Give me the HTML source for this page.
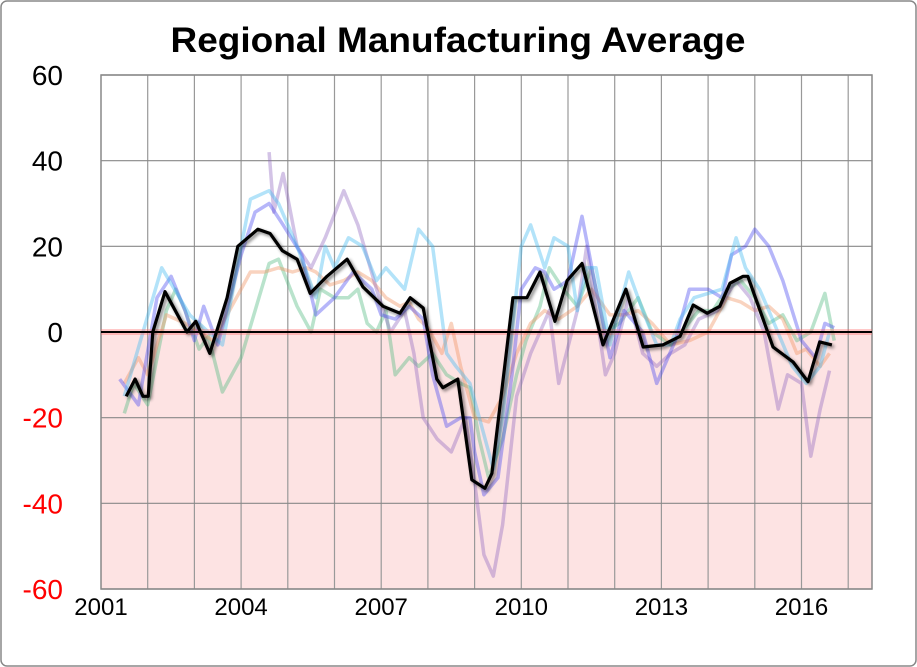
<!DOCTYPE html>
<html><head><meta charset="utf-8"><style>
html,body{margin:0;padding:0;background:#fff;}
svg{display:block;font-family:"Liberation Sans",sans-serif;}
</style></head><body>
<svg id="chart" width="917" height="667" viewBox="0 0 917 667" xmlns="http://www.w3.org/2000/svg">
<defs>
<filter id="sh" x="-5%" y="-5%" width="110%" height="110%"><feGaussianBlur in="SourceAlpha" stdDeviation="1.5"/><feOffset dx="2" dy="2"/><feComponentTransfer><feFuncA type="linear" slope="0.5"/></feComponentTransfer><feMerge><feMergeNode/><feMergeNode in="SourceGraphic"/></feMerge></filter>
</defs>
<rect x="1" y="1" width="915" height="665" rx="6" fill="#fff" stroke="#888" stroke-width="1.5"/>
<text x="458" y="52" text-anchor="middle" font-size="35" font-weight="bold" fill="#000" textLength="575" lengthAdjust="spacingAndGlyphs">Regional Manufacturing Average</text>
<g id="plot"></g>
</svg>
<script>
const yTicks=[60,40,20,0,-20,-40,-60];
const xTickLabels=[2001,2004,2007,2010,2013,2016];
const blackYears=[2001.54,2001.73,2001.9,2002.01,2002.11,2002.37,2002.84,2003.03,2003.33,2003.7,2003.93,2004.36,2004.62,2004.88,2005.2,2005.48,2005.84,2006.27,2006.61,2007.04,2007.4,2007.62,2007.9,2008.19,2008.32,2008.64,2008.94,2009.22,2009.37,2009.82,2010.12,2010.4,2010.72,2010.98,2011.3,2011.75,2012.24,2012.61,2013.03,2013.4,2013.68,2013.98,2014.25,2014.47,2014.75,2014.85,2015.39,2015.82,2016.14,2016.39,2016.65];
const blackVals=[-15,-11,-15,-15,0,9.4,0,2.5,-5,8,20,24,23,19,17,9,13,17,10.5,6,4.4,8,5.6,-11,-13,-11,-34.5,-36.5,-33,8,8,14,2.5,12,16,-3,10,-3.5,-3,-1,6.3,4.4,6,11.4,13,13,-3.5,-7,-11.6,-2.3,-3];
const cyanYears=[2001.5,2002.3,2002.9,2003.3,2003.6,2004.0,2004.2,2004.6,2004.8,2005.2,2005.6,2005.8,2006.0,2006.3,2006.6,2006.9,2007.1,2007.5,2007.8,2008.1,2008.4,2008.6,2008.9,2009.1,2009.4,2009.6,2010.0,2010.2,2010.5,2010.7,2011.0,2011.2,2011.4,2011.6,2011.9,2012.3,2012.6,2012.9,2013.2,2013.4,2013.7,2014.3,2014.6,2014.8,2015.1,2015.3,2015.8,2016.1,2016.4,2016.6];
const cyanVals=[-15,15,4,0,-3,20,31,33,30,20,8,20,15,22,20,12,15,10,24,20,-5,-8,-12,-20,-32,-20,20,25,15,22,20,5,15,15,-3,14,5,-3,-3,3,8,10,22,15,10,5,-8,-12,-8,0];
const blueYears=[2001.4,2001.8,2002.2,2002.5,2002.8,2003.0,2003.2,2003.5,2004.0,2004.3,2004.6,2004.9,2005.3,2005.6,2006.0,2006.4,2006.8,2007.0,2007.3,2007.6,2007.9,2008.1,2008.4,2008.7,2008.9,2009.0,2009.2,2009.5,2009.8,2010.0,2010.3,2010.5,2010.7,2011.0,2011.3,2011.6,2011.9,2012.2,2012.6,2012.9,2013.3,2013.6,2014.0,2014.3,2014.5,2014.8,2015.0,2015.3,2015.6,2016.0,2016.3,2016.5,2016.7];
const blueVals=[-11,-17,8,13,5,-2,6,-3,18,28,30,25,18,4,8,14,10,4,3,6,3,-10,-22,-20,-20,-28,-38,-34,-10,10,15,14,10,12,27,10,-6,5,0,-12,-2,10,10,8,18,20,24,20,12,-2,-6,2,1];
const purpleYears=[2004.6,2004.7,2004.9,2005.2,2005.5,2005.8,2006.2,2006.5,2006.9,2007.2,2007.5,2007.7,2007.9,2008.2,2008.5,2008.8,2009.0,2009.2,2009.4,2009.6,2009.9,2010.2,2010.4,2010.6,2010.8,2011.2,2011.4,2011.6,2011.8,2012.0,2012.3,2012.6,2012.9,2013.2,2013.5,2013.8,2014.2,2014.6,2014.9,2015.2,2015.5,2015.7,2016.0,2016.2,2016.4,2016.6];
const purpleVals=[42,28,37,20,15,22,33,25,10,0,5,-5,-20,-25,-28,-20,-35,-52,-57,-45,-15,-5,0,5,-12,5,20,5,-10,-5,8,-5,-8,-5,-3,3,5,12,8,0,-18,-10,-12,-29,-18,-9];
const orangeYears=[2001.5,2001.8,2002.0,2002.4,2002.8,2003.1,2003.4,2004.0,2004.2,2004.5,2004.8,2005.1,2005.4,2005.6,2005.9,2006.2,2006.5,2006.8,2007.1,2007.4,2007.6,2007.8,2008.0,2008.3,2008.5,2008.7,2009.0,2009.3,2009.6,2009.9,2010.2,2010.5,2010.8,2011.2,2011.5,2011.9,2012.2,2012.5,2012.8,2013.2,2013.6,2014.0,2014.4,2014.7,2015.0,2015.3,2015.6,2015.9,2016.1,2016.4,2016.6];
const orangeVals=[-12,-6,-10,4,2,0,-2,10,14,14,15,14,15,14,11,12,14,12,8,6,7,3,1,-5,2,-8,-20,-21,-15,-5,2,5,3,6,10,4,4,5,2,-3,-2,0,8,7,5,6,3,-5,-4,-8,-5];
const greenYears=[2001.5,2001.7,2002.0,2002.4,2002.6,2002.8,2003.1,2003.3,2003.6,2004.0,2004.3,2004.6,2004.8,2005.2,2005.5,2005.7,2006.0,2006.3,2006.5,2006.7,2006.9,2007.1,2007.3,2007.6,2007.8,2008.1,2008.4,2008.7,2008.9,2009.1,2009.3,2009.6,2009.9,2010.1,2010.4,2010.6,2010.9,2011.2,2011.5,2011.8,2012.1,2012.5,2012.8,2013.2,2013.5,2013.8,2014.1,2014.4,2014.7,2015.0,2015.3,2015.6,2015.9,2016.2,2016.5,2016.7];
const greenVals=[-19,-12,-17,5,10,5,-4,-1,-14,-6,5,16,17,6,0,10,8,8,10,2,0,5,-10,-6,-8,-5,-10,-12,-13,-25,-34,-25,-10,-2,6,15,10,6,15,0,2,8,0,-3,1,5,5,10,12,8,2,4,-2,0,9,-2];

const L=101,R=872,T=75,B=589;
const x=t=>L+(t-2001)*46.7;
const y=v=>332-(v)*(B-T)/120;
const NS='http://www.w3.org/2000/svg';
const g=document.getElementById('plot');
function mk(tag,attrs,parent){const e=document.createElementNS(NS,tag);for(const k in attrs)e.setAttribute(k,attrs[k]);(parent||g).appendChild(e);return e;}
let r=mk('rect',{x:L,y:T,width:R-L,height:y(0)-T,fill:'#ffffff'});


r=mk('rect',{x:L,y:y(0),width:R-L,height:B-y(0),fill:'#fde3e3'});


for(let yr=2002;yr<=2017;yr++){
 const l=mk('line',{x1:x(yr),x2:x(yr),y1:T,y2:B,stroke:'#999','stroke-width':1.2});
 
 
}
yTicks.forEach(v=>{
 const l=mk('line',{x1:L,x2:R,y1:y(v),y2:y(v),stroke:'#888','stroke-width':1.2});
 
 
 const t=mk('text',{x:63,y:y(v)+10,'text-anchor':'end','font-size':28,fill:v<0?'#ff0000':'#000'});
 t.textContent=v;
 
 
});
xTickLabels.forEach(v=>{
 const t=mk('text',{x:x(v),y:615,'text-anchor':'middle','font-size':24,fill:'#000'});
 t.textContent=v;
 
 
});
r=mk('rect',{x:L,y:T,width:R-L,height:B-T,fill:'none',stroke:'#888','stroke-width':1.5});


function series(ys,vs,color,w,name,op){
 const d=ys.map((t,i)=>(i?'L':'M')+x(t).toFixed(1)+','+y(vs[i]).toFixed(1)).join('');
 const p=mk('path',{d:d,fill:'none',stroke:color,'stroke-width':w,'stroke-opacity':op,'stroke-linejoin':'round'});
 
 
 return p;
}
series(greenYears,greenVals,'#50b880',3.5,'series-green',0.4);
series(orangeYears,orangeVals,'#f09060',3.5,'series-orange',0.4);
series(purpleYears,purpleVals,'#9068c0',3.5,'series-purple',0.4);
series(blueYears,blueVals,'#4848f0',3.5,'series-blue',0.4);
series(cyanYears,cyanVals,'#40b8f0',3.5,'series-cyan',0.4);
let z=mk('line',{x1:L,x2:R,y1:y(0),y2:y(0),stroke:'#ff6060','stroke-width':6,'stroke-opacity':0.35});


z=mk('line',{x1:L,x2:R,y1:y(0),y2:y(0),stroke:'#000','stroke-width':2});


const avg=series(blackYears,blackVals,'#000',3.2,'average-line',1);
avg.setAttribute('filter','url(#sh)');
</script>
</body></html>
